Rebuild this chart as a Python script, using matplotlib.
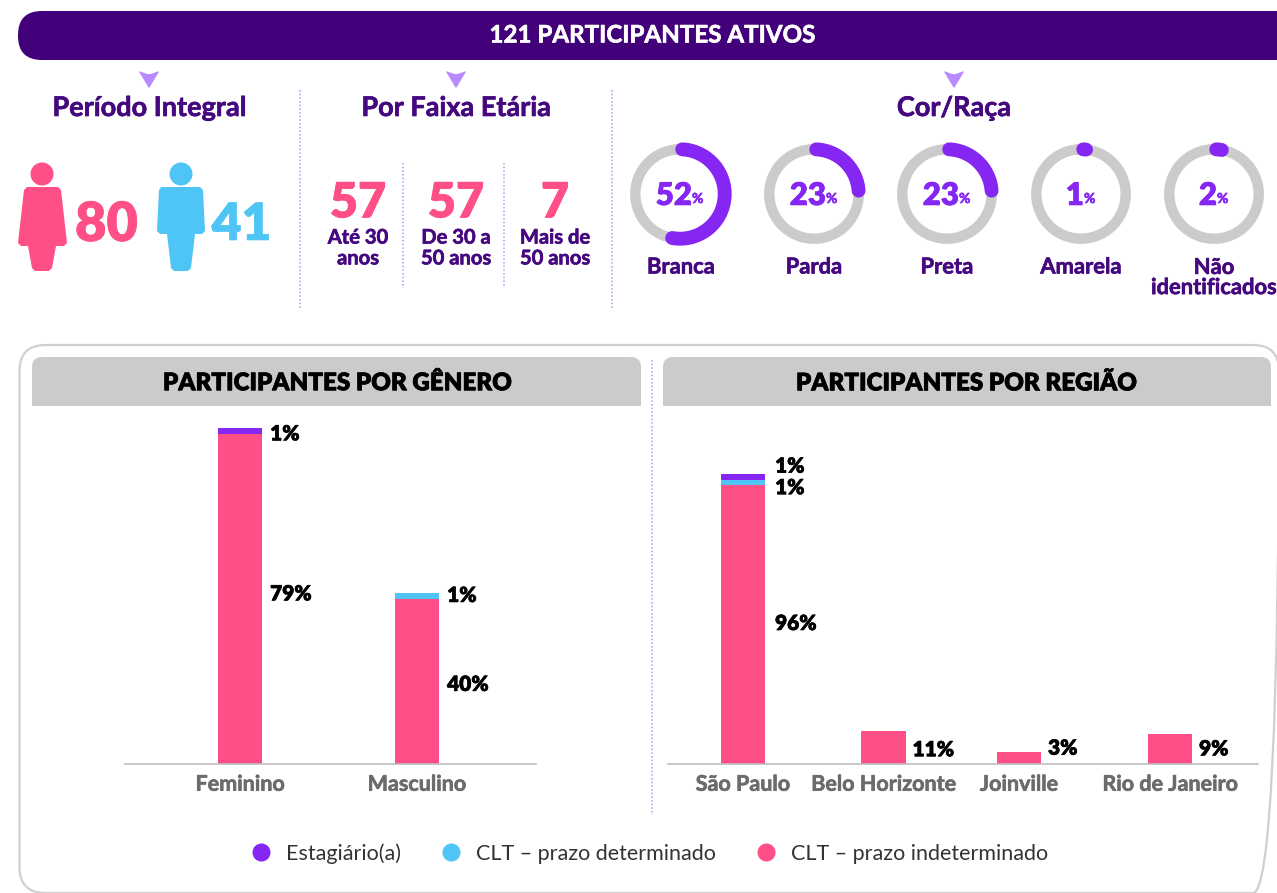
import numpy as np
import matplotlib
matplotlib.use("Agg")
import matplotlib.pyplot as plt
import matplotlib.patheffects as pe
from matplotlib.patches import FancyBboxPatch, Polygon, Ellipse, Rectangle
from matplotlib.lines import Line2D
from matplotlib.text import Text

plt.rcParams['font.family'] = ['Lato', 'DejaVu Sans']

# data
total_title = "121 PARTICIPANTES ATIVOS"
periodo_vals = ["80", "41"]
faixa_vals = ["57", "57", "7"]
faixa_labels = ["Até 30\nanos", "De 30 a\n50 anos", "Mais de\n50 anos"]
raca_labels = ["Branca", "Parda", "Preta", "Amarela", "Não\nidentificados"]
raca_vals = [52, 23, 23, 1, 2]

genero = ["Feminino", "Masculino"]
gen_indet = [79, 39.5]
gen_det = [0, 1.4]
gen_est = [1.4, 0]

regiao = ["São Paulo", "Belo Horizonte", "Joinville", "Rio de Janeiro"]
reg_indet = [96, 11.3, 4, 10.3]
reg_det = [1.7, 0, 0, 0]
reg_est = [2.1, 0, 0, 0]
reg_labels_indet = ["96%", "11%", "3%", "9%"]

legend_names = ["Estagiário(a)", "CLT – prazo determinado", "CLT – prazo indeterminado"]

PINK = "#FF4F87"
BLUE = "#4EC5F5"
PURPLE = "#8526F2"
DARK = "#42007A"
TITLE = "#45087F"
GREY = "#CBCBCB"
TICK = "#6B6B6B"
DOT = "#B79BE0"

W, H = 1277, 893
fig = plt.figure(figsize=(W / 100, H / 100), dpi=100)


def axes_px(x0, y0, x1, y1, **kw):
    # axes from pixel box, y measured from the top
    return fig.add_axes([x0 / W, 1 - y1 / H, (x1 - x0) / W, (y1 - y0) / H], **kw)


bg = axes_px(0, 0, W, H)
bg.set_xlim(0, W)
bg.set_ylim(H, 0)
bg.axis("off")


def rbox(x0, y0, x1, y1, r, **kw):
    bg.add_patch(FancyBboxPatch((x0, y0), x1 - x0, y1 - y0,
                                boxstyle=f"round,pad=0,rounding_size={r}", **kw))


# top banner
rbox(18, 11, 1300, 60, 24, fc=DARK, ec="none")
bg.text(652.5, 35, total_title, color="white", fontsize=17.4, fontweight="bold", ha="center", va="center")

# little arrows and section titles
for cx in [149, 456, 954]:
    bg.add_patch(Polygon([(cx - 9, 72), (cx - 4, 74), (cx, 75), (cx + 4, 74), (cx + 9, 72), (cx, 87)],
                         closed=True, fc="#B98AFF", ec="#B98AFF", lw=1, joinstyle="round"))
for cx, t in [(149.5, "Período Integral"), (456, "Por Faixa Etária"), (954, "Cor/Raça")]:
    bg.text(cx, 108, t, color=TITLE, fontsize=19.5, fontweight="bold", ha="center", va="center")

# dotted separators
for x, y0, y1 in [(300, 90, 308), (612, 90, 308), (403, 163, 288), (504, 163, 288), (652, 360, 815)]:
    bg.plot([x, x], [y0, y1], color=DOT, lw=1.1, ls=(0, (1, 1.4)))

# woman
bg.add_patch(Ellipse((42, 174), 23, 23, fc=PINK, ec="none"))
bg.add_patch(Polygon([(27, 187), (58, 187), (61, 190), (67, 243), (64, 246), (56, 246), (52, 268), (49, 271),
                      (35, 271), (32, 268), (28, 246), (21, 246), (18, 243), (24, 190)], closed=True, fc=PINK, ec="none"))
# man
bg.add_patch(Ellipse((181, 174), 23, 23, fc=BLUE, ec="none"))
bg.add_patch(Polygon([(161, 187), (200, 187), (203, 190), (205, 231), (202, 234), (195, 234), (191, 268), (188, 271),
                      (174, 271), (171, 268), (167, 234), (160, 234), (157, 231), (159, 190)], closed=True, fc=BLUE, ec="none"))
bg.text(106.5, 225, periodo_vals[0], color=PINK, fontsize=39, fontweight="heavy", ha="center", va="center")
bg.text(241.5, 225, periodo_vals[1], color=BLUE, fontsize=37, fontweight="heavy", ha="center", va="center")

# age groups
for cx, v, l in zip([358, 456, 555], faixa_vals, faixa_labels):
    bg.text(cx, 203, v, color=PINK, fontsize=35, fontweight="heavy", ha="center", va="center")
    bg.text(cx, 248, l, color=TITLE, fontsize=14.5, fontweight="bold", ha="center", va="center", linespacing=1.05)

# donuts
donut_x = [680, 814, 947, 1081, 1214]
donut_cy = 194
start = 0.05  # arcs start a touch past 12 o'clock
for cx, v, l in zip(donut_x, raca_vals, raca_labels):
    d = axes_px(cx - 60, donut_cy - 60, cx + 60, donut_cy + 60, projection="polar")
    d.set_theta_zero_location("N")
    d.set_theta_direction(-1)
    d.set_ylim(0, 60)
    d.axis("off")
    d.patch.set_alpha(0)
    theta = np.linspace(0, 2 * np.pi, 200)
    d.plot(theta, np.full(200, 44.7), color=GREY, lw=7.5, zorder=1)
    arc = np.linspace(start, start + 2 * np.pi * v / 100, 100)
    d.plot(arc, np.full(100, 44.7), color=PURPLE, lw=10, solid_capstyle="round", zorder=2)
    off = 12 if v >= 10 else 3
    bg.text(cx + off, donut_cy + 2, str(v), color=PURPLE, fontsize=22.5, fontweight="heavy", ha="right", va="center")
    bg.text(cx + off, donut_cy + 5, "%", color=PURPLE, fontsize=10, fontweight="bold", ha="left", va="center")
    bg.text(cx + (1 if cx == 680 else 0), 267 if "\n" not in l else 277.5, l, color=TITLE, fontsize=15.8,
            fontweight="bold", ha="center", va="center", linespacing=0.95)

# lower panel
rbox(19.5, 345, 1279, 893, 26, fc="none", ec="#CFCFCF", lw=1.6)
for x0, x1, cx, t in [(32, 641, 337.5, "PARTICIPANTES POR GÊNERO"), (663, 1271, 966.5, "PARTICIPANTES POR REGIÃO")]:
    rbox(x0, 357, x1, 390, 10, fc=GREY, ec="none")
    bg.add_patch(Rectangle((x0, 372), x1 - x0, 34, fc=GREY, ec="none"))
    bg.text(cx, 383, t, color="black", fontsize=17.4, fontweight="heavy", ha="center", va="center")


def stacked(ax, xs, indet, det, est, width):
    ax.bar(xs, indet, width, color=PINK)
    ax.bar(xs, det, width, bottom=indet, color=BLUE)
    bottom = np.array(indet) + np.array(det)
    ax.bar(xs, est, width, bottom=bottom, color=PURPLE)
    for s in ["top", "left", "right"]:
        ax.spines[s].set_visible(False)
    ax.spines["bottom"].set_color("#BDBDBD")
    ax.spines["bottom"].set_linewidth(1.2)
    ax.set_yticks([])
    ax.patch.set_alpha(0)
    ax.tick_params(axis="x", length=0, pad=7, labelsize=15.5, labelcolor=TICK)
    for t in ax.get_xticklabels():
        t.set_fontweight("bold")


def lab(ax, x, y, s, dx=8, dy=0):
    ax.annotate(s, (x, y), xytext=(dx * 0.72, -dy * 0.72), textcoords="offset points", fontsize=15,
                fontweight="heavy", color="black", va="center", ha="left")


# gender bars
ax1 = axes_px(125, 420, 536, 764)
x1 = np.arange(len(genero))
ax1.set_xticks(x1, genero)
stacked(ax1, x1, gen_indet, gen_det, gen_est, 0.25)
ax1.set_xlim(-115 / 177, 296 / 177)
ax1.set_ylim(0, 344 / 4.18)
lab(ax1, 0.125, 79.7, "1%", dy=3)
lab(ax1, 0.125, 39.5, "79%", dy=-5)
lab(ax1, 1.125, 40.2, "1%", dy=-0.5)
lab(ax1, 1.125, 20, "40%", dy=4)

# region bars
ax2 = axes_px(668, 420, 1258, 764)
x2 = np.array([0, 0.987, 1.939, 3.0])
ax2.set_xticks(x2, regiao)
stacked(ax2, x2, reg_indet, reg_det, reg_est, 0.31)
ax2.set_xlim(-75 / 142.33, 515 / 142.33)
ax2.set_ylim(0, 344 / 2.906)
w2 = 0.155
lab(ax2, w2, 98.7, "1%", dx=10, dy=-11)
lab(ax2, w2, 96.8, "1%", dx=10, dy=5)
lab(ax2, w2, 48, "96%", dx=10, dy=-1)
lab(ax2, x2[1] + w2, 5.6, reg_labels_indet[1], dx=7, dy=2)
lab(ax2, x2[2] + w2, 2, reg_labels_indet[2], dx=7, dy=-10)
lab(ax2, x2[3] + w2, 5.2, reg_labels_indet[3], dx=7, dy=0)

# legend
handles = [Line2D([], [], marker="o", ls="", ms=13, color=c, mec="none") for c in [PURPLE, BLUE, PINK]]
fig.legend(handles, legend_names, ncol=3, loc="center", bbox_to_anchor=(643.5 / W, 1 - 853.5 / H), frameon=False,
           fontsize=15.5, labelcolor="#333333", handletextpad=0.16, columnspacing=1.32, borderpad=0)

# the reference face is a bit heavier than Lato Bold
for t in fig.findobj(Text):
    if t.get_text() and t.get_fontweight() in ("bold", "heavy"):
        t.set_path_effects([pe.withStroke(linewidth=0.45, foreground=t.get_color())])

fig.savefig("out.png", dpi=100)
